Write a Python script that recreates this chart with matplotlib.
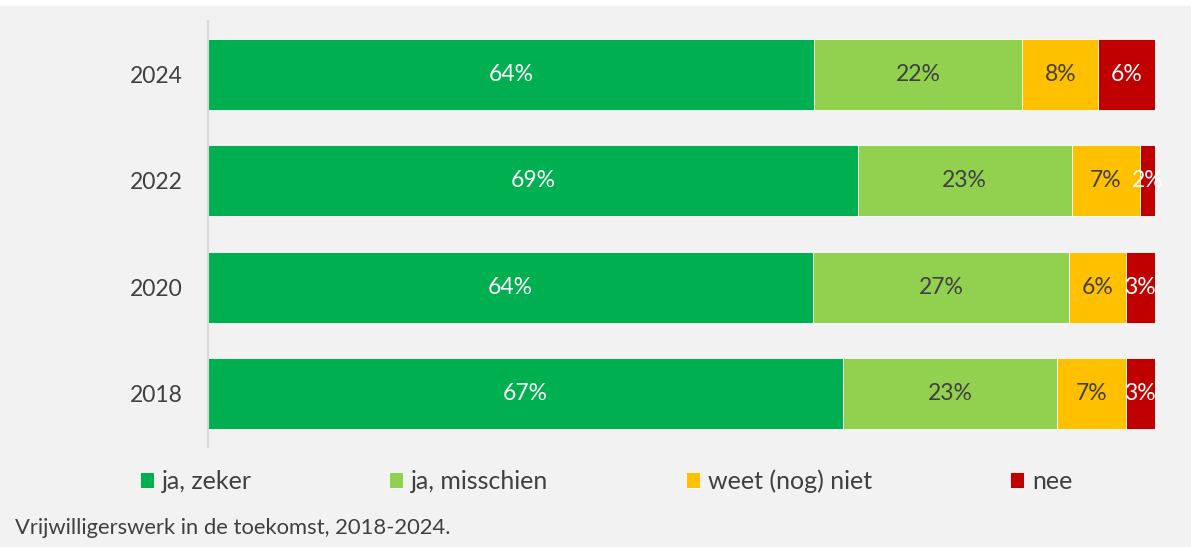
import numpy as np
import matplotlib.pyplot as plt
from matplotlib.patches import Rectangle

plt.rcParams['font.family'] = ['Lato', 'DejaVu Sans']

years = ['2024', '2022', '2020', '2018']
zeker = [64.0, 68.6, 63.9, 67.1]
misschien = [22.0, 22.6, 27.0, 22.6]
weet_niet = [8.0, 7.2, 6.0, 7.2]
nee = [6.0, 1.6, 3.1, 3.1]

names = ['ja, zeker', 'ja, misschien', 'weet (nog) niet', 'nee']
colors = ['#00B050', '#92D050', '#FFC000', '#C00000']
text_colors = ['white', '#404040', '#404040', 'white']
bg = '#F2F2F2'
dark = '#404040'

fig = plt.figure(figsize=(11.91, 5.47), dpi=100, facecolor=bg)
fig.patches.append(Rectangle((0, 1 - 6 / 547), 1, 6 / 547, transform=fig.transFigure,
                             facecolor='white', edgecolor='none', zorder=0))
ax = fig.add_axes([208 / 1191, 1 - 447 / 547, 947 / 1191, 426 / 547])
ax.set_facecolor(bg)

ypos = np.arange(len(years))
series = [np.array(zeker), np.array(misschien), np.array(weet_niet), np.array(nee)]
left = np.zeros(len(years))
handles = []
for vals, name, col, tcol in zip(series, names, colors, text_colors):
    b = ax.barh(ypos, vals, height=0.67, left=left, color=col, edgecolor='white',
                linewidth=0.6, label=name)
    handles.append(b)
    for y, v, l in zip(ypos, vals, left):
        ax.text(l + v / 2, y, '%d%%' % round(v), ha='center', va='center',
                color=tcol, fontsize=16.5)
    left = left + vals

ax.set_xlim(0, 100)
ax.set_ylim(3.5, -0.5)
ax.set_yticks(ypos)
ax.set_yticklabels(years, fontsize=16.5, color=dark)
ax.tick_params(axis='y', length=0, pad=18)
ax.set_xticks([])
for s in ['top', 'right', 'bottom']:
    ax.spines[s].set_visible(False)
ax.spines['left'].set_color('#D9D9D9')
ax.spines['left'].set_linewidth(1.5)

leg = fig.legend(handles=handles, labels=names, loc='center', ncol=4,
                 bbox_to_anchor=(606 / 1191, 1 - 481 / 547), frameon=False,
                 fontsize=18, handlelength=0.56, handleheight=0.56,
                 handletextpad=0.32, columnspacing=5.5)
for t in leg.get_texts():
    t.set_color(dark)

fig.text(15 / 1191, 1 - 528 / 547, 'Vrijwilligerswerk in de toekomst, 2018-2024.',
         ha='left', va='center', fontsize=15.8, color=dark)

fig.savefig('out.png', dpi=100, facecolor=bg)
